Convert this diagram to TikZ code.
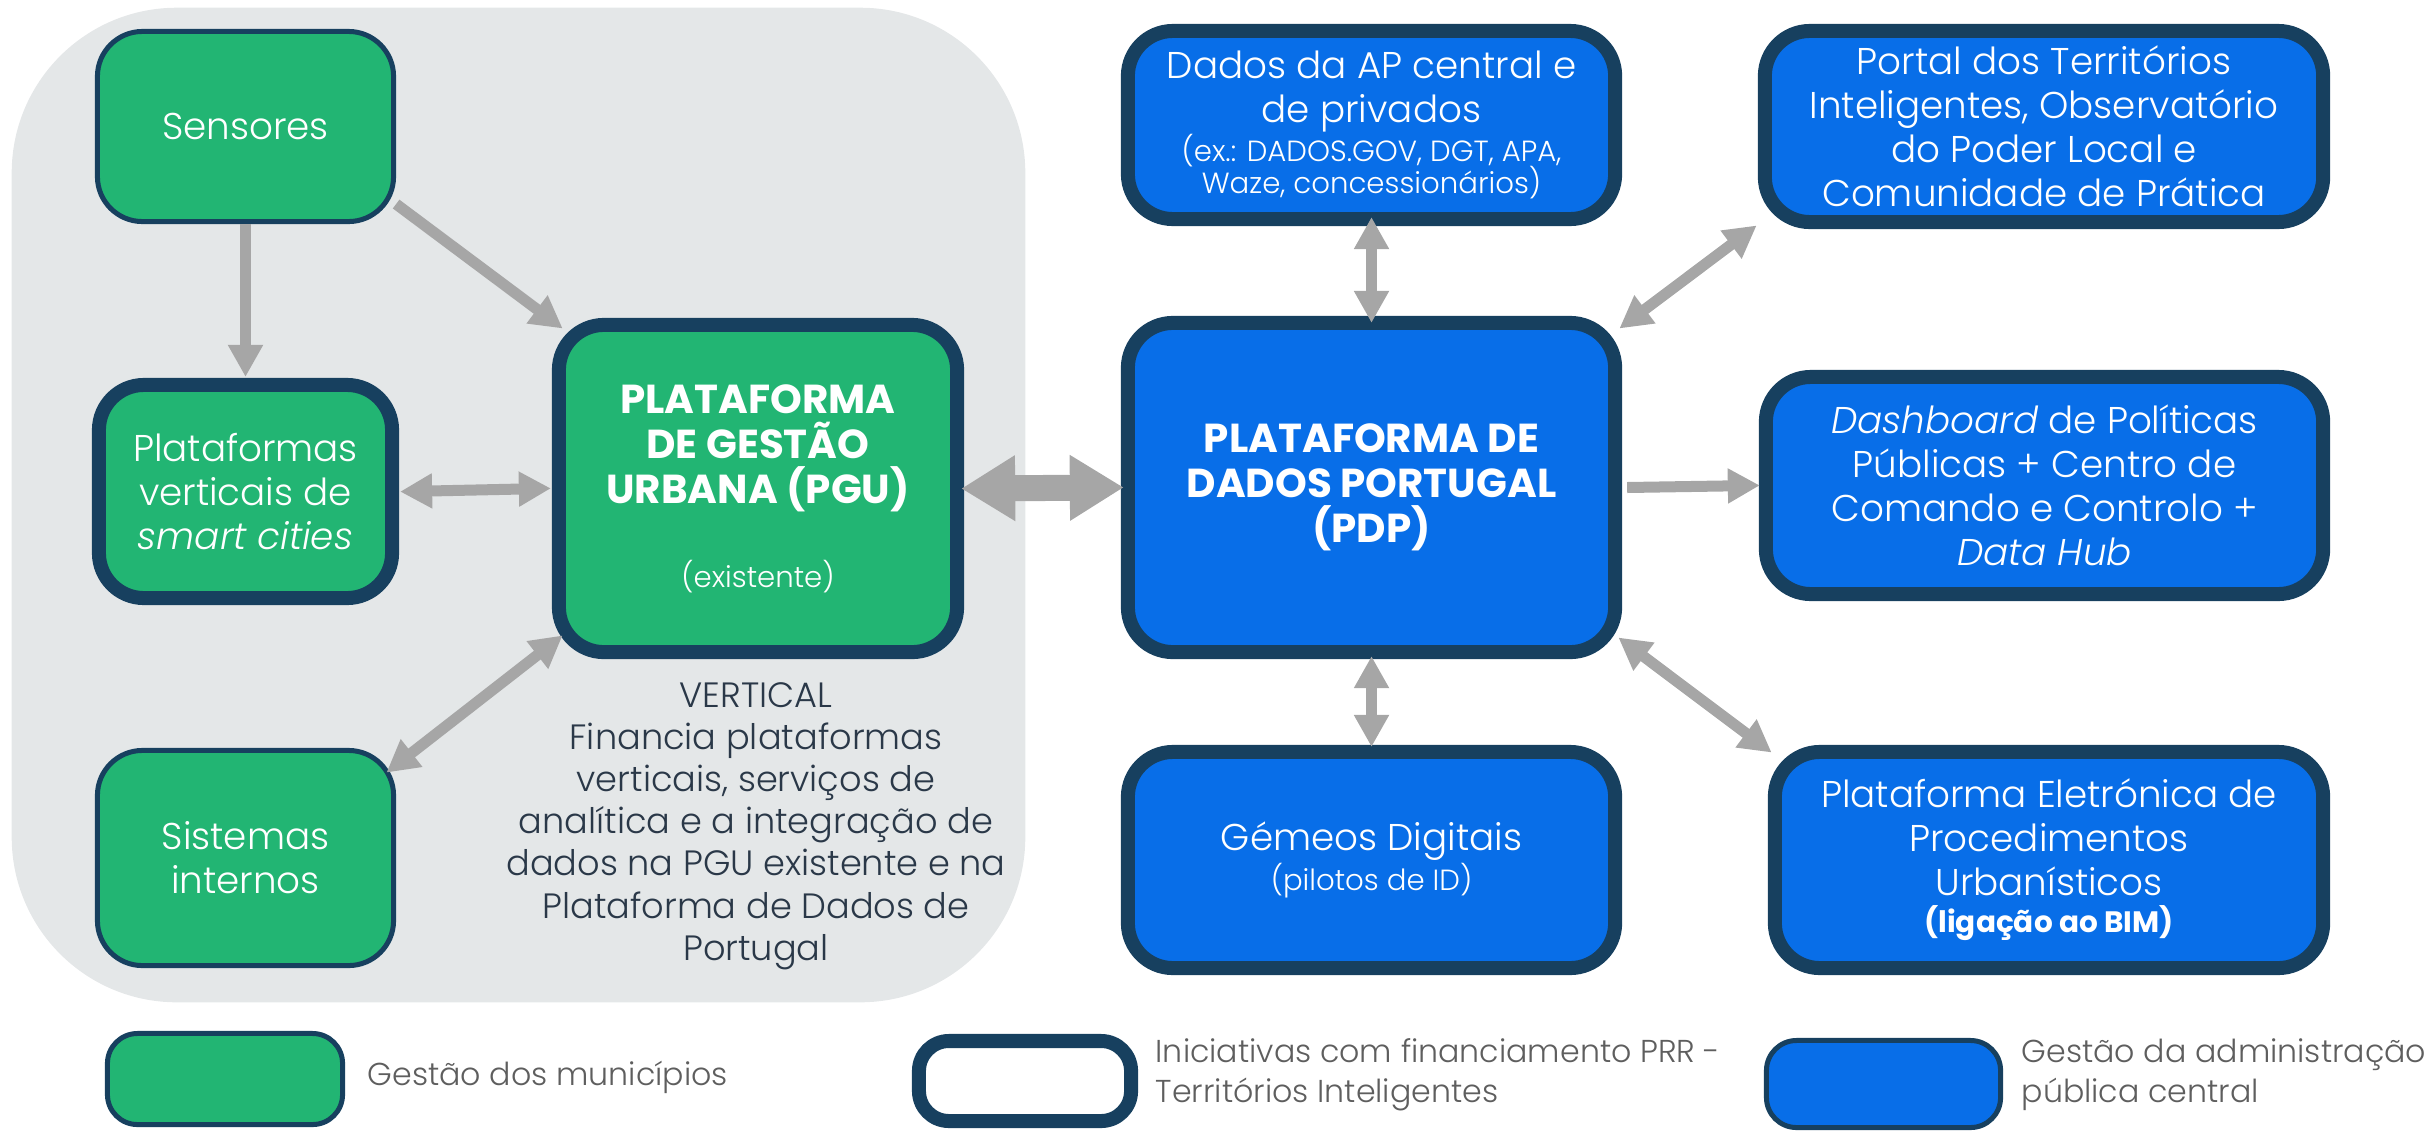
\documentclass[tikz,border=0pt]{standalone}
\usepackage{fontspec}
\IfFontExistsTF{Poppins Light}{%
  \IfFontExistsTF{Poppins Light Italic}{%
    \setmainfont{Poppins Light}[BoldFont={Poppins Bold}, ItalicFont={Poppins Light Italic}, BoldItalicFont={Poppins Bold Italic}]%
  }{%
    \setmainfont{Poppins Light}[BoldFont={Poppins Bold}]%
  }%
}{%
  \setmainfont{Poppins}%
}
\usetikzlibrary{arrows.meta,calc}
\definecolor{mgreen}{HTML}{22B573}
\definecolor{mblue}{HTML}{086EE8}
\definecolor{dborder}{HTML}{17405F}
\definecolor{bggray}{HTML}{E4E7E8}
\definecolor{agray}{HTML}{A6A6A6}
\definecolor{vtext}{HTML}{2A3848}
\definecolor{ltext}{HTML}{5E5E5E}
\tikzset{
  box/.style={draw=dborder, rounded corners=0.45cm, align=center, text=white, inner sep=0pt,
    font=\fontsize{10.6}{12.5}\selectfont},
  thinb/.style={line width=0.05cm},
  thickb/.style={line width=0.14cm},
  gbox/.style={box, fill=mgreen},
  bbox/.style={box, fill=mblue},
  arr/.style={draw=agray, line width=0.11cm, -{Triangle[width=0.33cm,length=0.32cm]}, shorten >=-0.06cm},
  darr/.style={draw=agray, line width=0.11cm, {Triangle[width=0.33cm,length=0.32cm]}-{Triangle[width=0.33cm,length=0.32cm]}, shorten >=-0.06cm, shorten <=-0.06cm},
  fatarr/.style={draw=agray, line width=0.26cm, {Triangle[width=0.62cm,length=0.54cm]}-{Triangle[width=0.62cm,length=0.54cm]}, shorten >=-0.1cm, shorten <=-0.1cm},
  legtext/.style={text=ltext, anchor=west, align=left, font=\fontsize{9}{11.4}\selectfont, inner sep=0pt},
  titlef/.style={font=\fontsize{11.5}{12.8}\selectfont\bfseries},
}
\newcommand{\smallf}{\fontsize{8.3}{9}\selectfont}
\begin{document}
\begin{tikzpicture}[x=0.01cm,y=-0.01cm]
\useasboundingbox (0,0) rectangle (2425,1130);
% background area
\node[fill=bggray, rounded corners=1.65cm, minimum width=10.13cm, minimum height=9.94cm, inner sep=0pt] (bg) at (518.5,505) {};

% municipal boxes
\node[gbox, thinb, minimum width=2.96cm, minimum height=1.90cm] (sens) at (245.5,126.5) {Sensores};
\node[gbox, thickb, minimum width=2.93cm, minimum height=2.13cm] (plat) at (245.5,491.5) {Plataformas\\verticais de\\\textit{smart cities}};
\node[gbox, thickb, titlef, minimum width=3.98cm, minimum height=3.27cm] (pgu) at (758,488.5) {PLATAFORMA\\DE GESTÃO\\URBANA (PGU)\\[11pt]{\smallf\mdseries (existente)}};
\node[gbox, thinb, minimum width=2.96cm, minimum height=2.15cm] (sist) at (245.5,858) {Sistemas\\internos};

\node[align=center, text=vtext, font=\fontsize{10}{12}\selectfont, inner sep=0pt] (vert) at (756,826) {VERTICAL\\Financia plataformas\\verticais, serviços de\\analítica e a integração de\\dados na PGU existente e na\\Plataforma de Dados de\\Portugal};

% central administration boxes
\node[bbox, thickb, minimum width=4.87cm, minimum height=1.88cm] (dados) at (1371.5,125) {Dados da AP central e\\de privados\\[-1.5pt]{\smallf (ex.: DADOS.GOV, DGT, APA,}\\[-3.5pt]{\smallf Waze, concessionários)}};
\node[bbox, thickb, minimum width=5.58cm, minimum height=1.91cm] (portal) at (2044,126.5) {Portal dos Territórios\\Inteligentes, Observatório\\do Poder Local e\\Comunidade de Prática};
\node[bbox, thickb, titlef, minimum width=4.87cm, minimum height=3.29cm] (pdp) at (1371.5,487.5) {PLATAFORMA DE\\DADOS PORTUGAL\\(PDP)};
\node[bbox, thickb, minimum width=5.57cm, minimum height=2.17cm] (dash) at (2044.5,485.5) {\textit{Dashboard} de Políticas\\Públicas + Centro de\\Comando e Controlo +\\\textit{Data Hub}};
\node[bbox, thickb, minimum width=4.87cm, minimum height=2.16cm] (gem) at (1371.5,860) {Gémeos Digitais\\[-1pt]{\smallf (pilotos de ID)}};
\node[bbox, thickb, minimum width=5.48cm, minimum height=2.16cm] (pele) at (2049,860) {Plataforma Eletrónica de\\Procedimentos\\Urbanísticos\\[-2pt]{\fontsize{8.4}{9}\selectfont\bfseries (ligação ao BIM)}};

% legend
\node[gbox, thinb, minimum width=2.35cm, minimum height=0.91cm, rounded corners=0.3cm] (leg1) at (225,1079) {};
\node[legtext] (leg1t) at (367,1077) {Gestão dos municípios};
\node[box, fill=white, thickb, minimum width=2.12cm, minimum height=0.80cm, rounded corners=0.3cm] (leg2) at (1025,1081) {};
\node[legtext] (leg2t) at (1155,1075) {Iniciativas com financiamento PRR -\\Territórios Inteligentes};
\node[bbox, thinb, minimum width=2.34cm, minimum height=0.87cm, rounded corners=0.3cm] (leg3) at (1883.5,1084) {};
\node[legtext] (leg3t) at (2021,1075) {Gestão da administração\\pública central};

% connectors
\draw[arr] (sens.south) -- ([yshift=0.07cm]plat.north);
\draw[arr] ($(sens.south east)+(0,-20)$) -- ($(pgu.north west)+(6,7)$);
\draw[darr] ([xshift=0.07cm]plat.east) -- ([xshift=-0.07cm]pgu.west);
\draw[darr] ($(sist.north east)+(-5,21)$) -- ($(pgu.south west)+(6,-20)$);
\draw[fatarr] ([xshift=0.07cm]pgu.east) -- ([xshift=-0.07cm]pdp.west);
\draw[darr] ([yshift=0.03cm]dados.south) -- ([yshift=-0.01cm]pdp.north);
\draw[darr] ($(pdp.north east)+(2,9)$) -- ($(portal.south west)+(-6,0)$);
\draw[arr] ([xshift=0.05cm]pdp.east) -- ([xshift=-0.05cm]dash.west);
\draw[darr] ([yshift=-0.03cm]pdp.south) -- ([yshift=0.04cm]gem.north);
\draw[darr] ($(pdp.south east)+(1,-18)$) -- ($(pele.north west)+(-1,4)$);
\end{tikzpicture}
\end{document}
